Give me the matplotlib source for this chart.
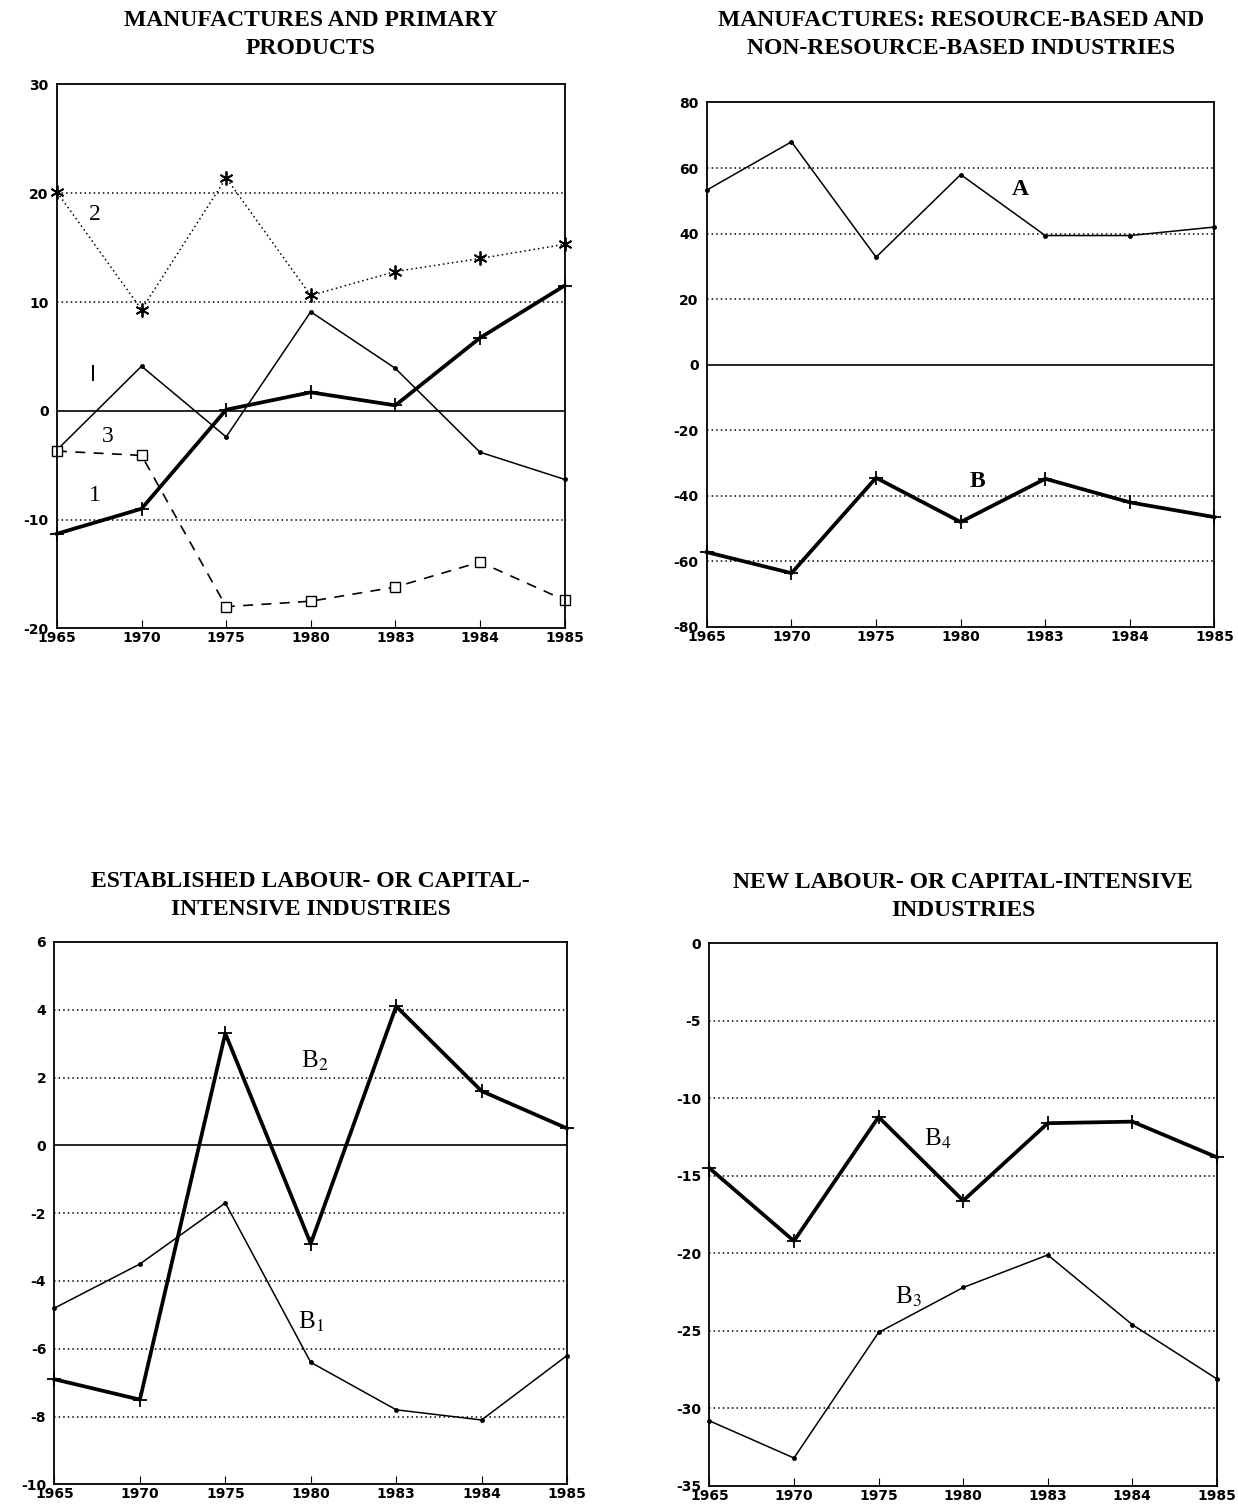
"""Four-panel line chart: trade balance indicators, 1965-1985."""

import numpy as np
import matplotlib

matplotlib.use("Agg")
import matplotlib.pyplot as plt

plt.rcParams["mathtext.fontset"] = "stix"

years = ["1965", "1970", "1975", "1980", "1983", "1984", "1985"]

# panel 1: manufactures and primary products
p1_thick = [-11.3, -9.0, 0.1, 1.7, 0.5, 6.7, 11.5]
p1_thin = [-3.6, 4.1, -2.4, 9.1, 3.9, -3.8, -6.3]
p1_star = [20.1, 9.3, 21.4, 10.6, 12.8, 14.0, 15.3]
p1_square = [-3.7, -4.1, -18.0, -17.5, -16.2, -13.9, -17.4]

# panel 2: resource-based (A) and non-resource-based (B)
p2_a = [53.3, 68.0, 32.8, 58.0, 39.4, 39.4, 42.0]
p2_b = [-57.2, -63.6, -34.5, -48.0, -34.8, -42.0, -46.5]

# panel 3: established industries
p3_b2 = [-6.9, -7.5, 3.3, -2.9, 4.1, 1.6, 0.5]
p3_b1 = [-4.8, -3.5, -1.7, -6.4, -7.8, -8.1, -6.2]

# panel 4: new industries
p4_b4 = [-14.5, -19.2, -11.2, -16.6, -11.6, -11.5, -13.8]
p4_b3 = [-30.8, -33.2, -25.1, -22.2, -20.1, -24.6, -28.1]

titles = [
    "MANUFACTURES AND PRIMARY\nPRODUCTS",
    "MANUFACTURES: RESOURCE-BASED AND\nNON-RESOURCE-BASED INDUSTRIES",
    "ESTABLISHED LABOUR- OR CAPITAL-\nINTENSIVE INDUSTRIES",
    "NEW LABOUR- OR CAPITAL-INTENSIVE\nINDUSTRIES",
]

SERIF = "Liberation Serif"
TICKFONT = dict(family="DejaVu Sans", weight="bold", size=10)

fig = plt.figure(figsize=(12.38, 15.07), dpi=100)
boxes = [
    [0.046, 0.583, 0.410, 0.361],
    [0.571, 0.584, 0.410, 0.348],
    [0.044, 0.0150, 0.414, 0.360],
    [0.573, 0.0140, 0.410, 0.360],
]
ranges = [(-20, 30, 10), (-80, 80, 20), (-10, 6, 2), (-35, 0, 5)]
title_y = [0.977, 0.977, 0.406, 0.405]

x = np.arange(len(years))
axes = []
for box, (lo, hi, step), title, ty in zip(boxes, ranges, titles, title_y):
    ax = fig.add_axes(box)
    ax.set_xlim(0, len(years) - 1)
    ax.set_ylim(lo, hi)
    ticks = np.arange(lo, hi + step / 2, step)
    ax.set_yticks(ticks)
    ax.set_yticklabels([f"{int(t)}" for t in ticks], fontdict=TICKFONT)
    ax.set_xticks(x)
    ax.set_xticklabels(years, fontdict=TICKFONT)
    ax.tick_params(axis="x", direction="in", length=6, pad=2)
    ax.tick_params(axis="y", length=0, pad=6)
    for t in ticks[1:-1]:
        if t == 0:
            ax.axhline(0, color="black", lw=1.2)
        else:
            ax.axhline(t, color="black", lw=1.1, ls=(0, (1, 2)))
    for s in ax.spines.values():
        s.set_linewidth(1.3)
    fig.text(box[0] + box[2] / 2, ty, title, ha="center", va="center",
             family=SERIF, weight="bold", size=17, linespacing=1.45)
    axes.append(ax)

thick = dict(color="black", lw=2.7, marker="+", ms=10, mew=1.3, clip_on=False)
thin = dict(color="black", lw=1.1, marker="o", ms=2.5, clip_on=False)

# panel 1
ax = axes[0]
ax.plot(x, p1_thick, **thick)
ax.plot(x, p1_thin, **thin)
ax.plot(x, p1_star, color="black", lw=1.1, ls=(0, (1, 2)),
        marker=(6, 2, 0), ms=10, mew=1.3, clip_on=False)
ax.plot(x, p1_square, color="black", lw=1.2, ls=(0, (6, 5)),
        marker="s", ms=7, mfc="white", mew=1.0, clip_on=False)
lab = dict(family=SERIF, size=17, ha="center", va="center")
ax.text(0.45, 18.0, "2", **lab)
ax.text(0.43, 3.3, "I", family="DejaVu Sans", size=15, ha="center", va="center")
ax.text(0.6, -2.4, "3", **lab)
ax.text(0.45, -7.8, "1", **lab)

# panel 2
ax = axes[1]
ax.plot(x, p2_a, **thin)
ax.plot(x, p2_b, **thick)
ax.text(3.7, 53.5, "A", family=SERIF, weight="bold", size=17, ha="center", va="center")
ax.text(3.2, -35.5, "B", family=SERIF, weight="bold", size=17, ha="center", va="center")

# panel 3
ax = axes[2]
ax.plot(x, p3_b2, **thick)
ax.plot(x, p3_b1, **thin)
sub = dict(family=SERIF, size=18, ha="center", va="center")
ax.text(3.05, 2.5, r"B$_2$", **sub)
ax.text(3.0, -5.2, r"B$_1$", **sub)

# panel 4
ax = axes[3]
ax.plot(x, p4_b4, **thick)
ax.plot(x, p4_b3, **thin)
ax.text(2.7, -12.6, r"B$_4$", **sub)
ax.text(2.35, -22.8, r"B$_3$", **sub)

fig.savefig("out.png", dpi=100)
